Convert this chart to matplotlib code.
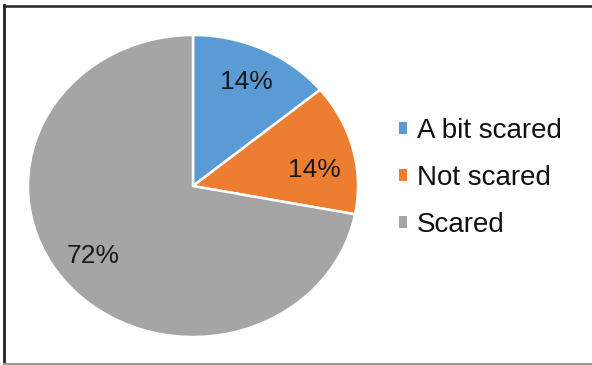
import matplotlib
matplotlib.use("Agg")
import matplotlib.pyplot as plt
from matplotlib.lines import Line2D
from matplotlib.patches import Patch

plt.rcParams['font.family'] = ['Liberation Sans', 'DejaVu Sans']

labels = ["A bit scared", "Not scared", "Scared"]
shares = [14, 14, 72]
colors = ["#5B9BD5", "#ED7D31", "#A5A5A5"]

W, H = 592, 365
fig = plt.figure(figsize=(W / 100, H / 100), dpi=100)

# pie box in pixels: left, top, right, bottom
px0, py0, px1, py1 = 28, 35, 358, 337
ax = fig.add_axes([px0 / W, 1 - py1 / H, (px1 - px0) / W, (py1 - py0) / H])

wedges, texts, autotexts = ax.pie(
    shares, colors=colors, startangle=90, counterclock=False,
    autopct=lambda p: "%d%%" % round(p), pctdistance=0.76,
    wedgeprops=dict(edgecolor="white", linewidth=1.8),
    textprops=dict(fontsize=19, color="#1a1a1a"))
ax.set_aspect("auto")
ax.set_xlim(-1, 1)
ax.set_ylim(-1, 1)

# nudge the narrow-slice labels a little, like the spreadsheet "best fit"
x, y = autotexts[1].get_position()
autotexts[1].set_position((x, y - 0.08))
x, y = autotexts[2].get_position()
autotexts[2].set_position((x - 0.02, y + 0.02))

handles = [Patch(facecolor=c, edgecolor="none") for c in colors]
fig.legend(handles, labels, loc="center left", bbox_to_anchor=(399 / W, 1 - 178 / H),
           frameon=False, fontsize=20, handlelength=0.3, handleheight=0.3,
           handletextpad=0.35, labelspacing=0.76, borderpad=0, borderaxespad=0,
           labelcolor="#111111")

# outer frame
fig.add_artist(Line2D([3.5 / W, 3.5 / W], [0, 1 - 5 / H], color="#222222", lw=2.0))
fig.add_artist(Line2D([3.5 / W, 1], [1 - 5.5 / H, 1 - 5.5 / H], color="#222222", lw=1.8))
fig.add_artist(Line2D([3.5 / W, 1], [1.5 / H, 1.5 / H], color="#999999", lw=1.5))

fig.savefig("out.png", dpi=100)
